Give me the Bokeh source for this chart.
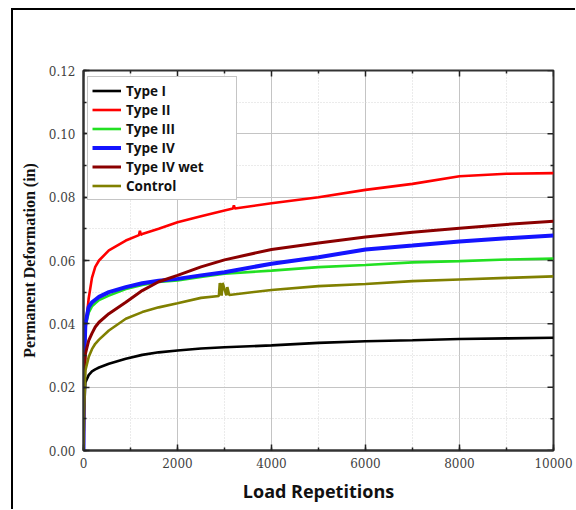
import numpy as np
from bokeh.plotting import figure
from bokeh.models import SingleIntervalTicker, NumeralTickFormatter, Range1d
from bokeh.embed import file_html
from bokeh.resources import INLINE

# ---------------- data ----------------
reps = [0, 10, 40, 110, 180, 250, 330, 540, 900, 1250, 1600, 2000, 2500,
        3000, 4000, 5000, 6000, 7000, 8000, 9000, 10000]

type1 = [0.0, 0.012, 0.0215, 0.0238, 0.025, 0.0256, 0.0262, 0.0274, 0.029, 0.0302,
         0.031, 0.0316, 0.0322, 0.0326, 0.0332, 0.034, 0.0345, 0.0348, 0.0352,
         0.0354, 0.0356]

type2_x = [0, 10, 40, 110, 180, 250, 330, 540, 900, 1180, 1200, 1220, 1250, 1600,
           2000, 2500, 3000, 3180, 3200, 3220, 4000, 5000, 6000, 7000, 8000, 9000, 10000]
type2 = [0.0, 0.028, 0.038, 0.048, 0.0545, 0.058, 0.060, 0.0632, 0.0663, 0.0680,
         0.0694, 0.0681, 0.0684, 0.070, 0.0721, 0.074, 0.0758, 0.0764, 0.0774, 0.0764,
         0.0781, 0.080, 0.0823, 0.0842, 0.0866, 0.0874, 0.0876]

type3 = [0.0, 0.025, 0.039, 0.0435, 0.0455, 0.0465, 0.0475, 0.0489, 0.051, 0.0523,
         0.0532, 0.0537, 0.0548, 0.0558, 0.0568, 0.0579, 0.0586, 0.0594, 0.0598,
         0.0603, 0.0606]

type4 = [0.0, 0.027, 0.040, 0.0453, 0.0468, 0.0476, 0.0485, 0.050, 0.0516, 0.0528,
         0.0536, 0.0542, 0.0553, 0.0563, 0.059, 0.061, 0.0635, 0.0647, 0.066,
         0.067, 0.0679]

type4wet = [0.0, 0.018, 0.0305, 0.0347, 0.037, 0.039, 0.0405, 0.0432, 0.0468, 0.0505,
            0.0533, 0.0553, 0.058, 0.0602, 0.0635, 0.0655, 0.0674, 0.0689, 0.0702,
            0.0714, 0.0724]

control_x = [0, 10, 40, 110, 180, 250, 330, 540, 900, 1250, 1600, 2000, 2500, 2880,
             2900, 2940, 2960, 3040, 3060, 3100, 4000, 5000, 6000, 7000, 8000, 9000, 10000]
control = [0.0, 0.012, 0.0253, 0.0295, 0.032, 0.0337, 0.035, 0.0379, 0.0416, 0.0437,
           0.0452, 0.0465, 0.0482, 0.0488, 0.0529, 0.0489, 0.0529, 0.0490, 0.0516, 0.0491,
           0.0507, 0.0519, 0.0526, 0.0535, 0.054, 0.0545, 0.055]

names = ["Type I", "Type II", "Type III", "Type IV", "Type IV wet", "Control"]
colors = ["#000000", "#ff0000", "#22e022", "#1414ff", "#8b0000", "#808000"]
widths = [2.6, 2.6, 2.6, 4.0, 3.0, 2.6]

x_min, x_max, x_major, x_minor = 0, 10000, 2000, 1000
y_min, y_max, y_major, y_minor = 0.0, 0.12, 0.02, 0.01

# ---------------- figure ----------------
p = figure(frame_width=470, frame_height=380, output_backend="svg",
           toolbar_location=None, x_range=Range1d(x_min, x_max),
           y_range=Range1d(y_min, y_max),
           min_border_left=70, min_border_top=60, min_border_right=22,
           min_border_bottom=59, background_fill_color="white",
           border_fill_color="white")
p.outline_line_color = "#333333"
p.outline_line_width = 2
p.styles = {"margin-left": "11px", "margin-top": "8px",
            "border-left": "2px solid #000", "border-top": "2px solid #000"}

series = [(reps, type1), (type2_x, type2), (reps, type3), (reps, type4),
          (reps, type4wet), (control_x, control)]
for (xs, ys), name, c, w in zip(series, names, colors, widths):
    p.line(xs, ys, line_color=c, line_width=w, legend_label=name)

xt = SingleIntervalTicker(interval=x_major, num_minor_ticks=2)
yt = SingleIntervalTicker(interval=y_major, num_minor_ticks=2)

p.xaxis.ticker = xt
p.yaxis.ticker = yt
p.xaxis.formatter = NumeralTickFormatter(format="0")
p.yaxis.formatter = NumeralTickFormatter(format="0.00")

for ax in (p.xaxis[0], p.yaxis[0]):
    ax.major_tick_in = 6
    ax.major_tick_out = 0
    ax.minor_tick_in = 3
    ax.minor_tick_out = 0
    ax.axis_line_color = "#333333"
    ax.axis_line_width = 2
    ax.major_tick_line_color = "#222222"
    ax.minor_tick_line_color = "#222222"
    ax.major_tick_line_width = 1.5
    ax.minor_tick_line_width = 1.5
    ax.major_label_text_font = "DejaVu Serif"
    ax.major_label_text_font_size = "12px"
    ax.major_label_text_color = "#3f3f3f"

p.yaxis.major_label_standoff = 8
p.xaxis.major_label_standoff = 7

p.yaxis.axis_label = "Permanent Deformation (in)"
p.yaxis.axis_label_text_font = "Liberation Serif"
p.yaxis.axis_label_text_font_style = "bold"
p.yaxis.axis_label_text_font_size = "16px"
p.yaxis.axis_label_text_color = "#111111"
p.yaxis.axis_label_standoff = 8

p.xaxis.axis_label = "Load Repetitions"
p.xaxis.axis_label_text_font = "Open Sans"
p.xaxis.axis_label_text_font_style = "bold"
p.xaxis.axis_label_text_font_size = "18px"
p.xaxis.axis_label_text_color = "#111111"
p.xaxis.axis_label_standoff = 8

# mirrored tick marks on the top and right edges (half of each dash is clipped)
top_x = np.arange(x_min, x_max + 1, x_minor)
top_size = np.where(top_x % x_major == 0, 12, 6)
p.scatter(top_x, np.full(len(top_x), y_max), marker="dash", angle=np.pi / 2,
          size=top_size, line_color="#222222", line_width=1.5)
right_y = np.round(np.arange(y_min, y_max + 1e-9, y_minor), 4)
right_size = np.where(np.isclose((right_y / y_major) % 1, 0) |
                      np.isclose((right_y / y_major) % 1, 1), 12, 6)
p.scatter(np.full(len(right_y), x_max), right_y, marker="dash", angle=0,
          size=right_size, line_color="#222222", line_width=1.5)

# grids
p.xgrid.ticker = xt
p.ygrid.ticker = yt
for g in (p.xgrid[0], p.ygrid[0]):
    g.grid_line_color = "#c4c4c4"
    g.grid_line_width = 1
    g.minor_grid_line_color = "#d6d6d6"
    g.minor_grid_line_dash = "1 2"
    g.minor_grid_line_width = 1

# legend
lg = p.legend[0]
lg.location = (4, 250)
lg.label_text_font = "Open Sans"
lg.label_text_font_style = "bold"
lg.label_text_font_size = "13.5px"
lg.label_text_color = "#111111"
lg.border_line_color = "#8c8c8c"
lg.border_line_width = 1.5
lg.background_fill_color = "white"
lg.background_fill_alpha = 1
lg.glyph_width = 29
lg.glyph_height = 19
lg.label_height = 19
lg.label_width = 106
lg.spacing = 0
lg.padding = 4
lg.margin = 0
lg.label_standoff = 5

open("out.html", "w").write(file_html(p, INLINE))
